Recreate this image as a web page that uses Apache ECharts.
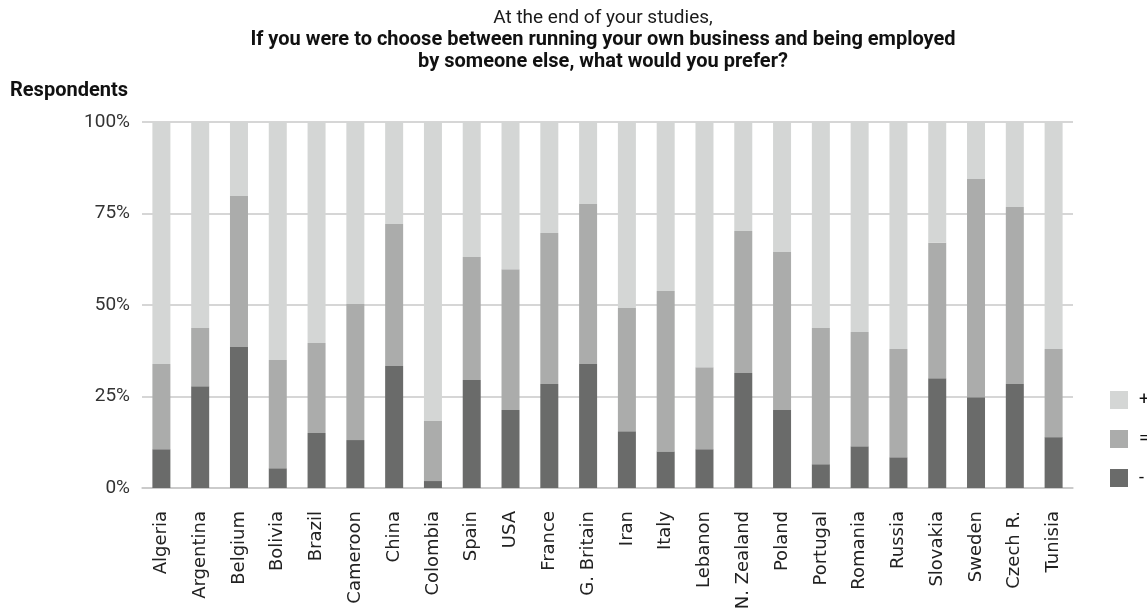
<!DOCTYPE html>
<html>
<head>
<meta charset="utf-8">
<script src="https://cdn.jsdelivr.net/npm/echarts@6/dist/echarts.min.js"></script>
<style>
html,body{margin:0;padding:0;background:#fff;}
#chart{width:1147px;height:608px;}
</style>
</head>
<body>
<div id="chart"></div>
<script>
const categories = ['Algeria','Argentina','Belgium','Bolivia','Brazil','Cameroon','China','Colombia','Spain','USA','France','G. Britain','Iran','Italy','Lebanon','N. Zealand','Poland','Portugal','Romania','Russia','Slovakia','Sweden','Czech R.','Tunisia'];
const minusValues = [10.6,27.8,38.5,5.4,15.0,13.1,33.3,1.9,29.5,21.3,28.4,33.9,15.5,10.0,10.6,31.4,21.3,6.5,11.4,8.4,30.0,24.8,28.4,13.9];
const equalValues = [23.3,15.9,41.3,29.6,24.6,37.2,38.8,16.4,33.6,38.5,41.3,43.7,33.7,43.8,22.4,38.8,43.2,37.2,31.2,29.6,37.0,59.6,48.4,24.1];
const plusValues  = [66.1,56.3,20.2,65.0,60.4,49.7,27.9,81.7,36.9,40.2,30.3,22.4,50.8,46.2,67.0,29.8,35.5,56.3,57.4,62.0,33.0,15.6,23.2,62.0];
const yTicks = [0,25,50,75,100];

const chart = echarts.init(document.getElementById('chart'));
const font = 'Roboto, "Noto Sans", sans-serif';
const option = {
  backgroundColor: '#ffffff',
  animation: false,
  title: [
    {
      text: 'At the end of your studies,',
      left: 603, top: 5, textAlign: 'center', padding: 0,
      textStyle: {fontFamily: font, fontSize: 19, fontWeight: 'normal', color: '#1a1a1a', lineHeight: 26}
    },
    {
      text: 'If you were to choose between running your own business and being employed\nby someone else, what would you prefer?',
      left: 603, top: 29, textAlign: 'center', padding: 0,
      textStyle: {fontFamily: font, fontSize: 20, fontWeight: 'bold', color: '#111', lineHeight: 22}
    },
    {
      text: 'Respondents',
      left: 10, top: 80, padding: 0,
      textStyle: {fontFamily: font, fontSize: 20, fontWeight: 'bold', color: '#111', lineHeight: 22}
    }
  ],
  legend: {
    data: ['+','=','-'],
    orient: 'vertical',
    left: 1110, top: 391,
    itemWidth: 18, itemHeight: 18, itemGap: 21,
    icon: 'rect',
    padding: 0,
    textStyle: {fontFamily: font, fontSize: 18, color: '#111', padding: [0,0,0,6]}
  },
  grid: {left: 142, right: 74, top: 122, bottom: 120, containLabel: false, outerBoundsMode: 'none'},
  xAxis: {
    type: 'category',
    data: categories,
    axisLine: {lineStyle: {color: '#c8c8c8', width: 1.5}},
    axisTick: {length: 7, lineStyle: {color: '#c8c8c8', width: 1.5}},
    axisLabel: {rotate: 90, margin: 23, interval: 0, fontFamily: '"DejaVu Sans", sans-serif', fontSize: 18, color: '#222'}
  },
  yAxis: {
    type: 'value',
    min: 0, max: 100, interval: 25,
    axisLine: {show: false},
    axisTick: {show: false},
    splitLine: {lineStyle: {color: '#c8c8c8', width: 1.5}},
    axisLabel: {
      margin: 12, fontFamily: font, fontSize: 19, color: '#333',
      formatter: function (v) { return yTicks.indexOf(v) >= 0 ? v + '%' : ''; }
    }
  },
  series: [
    {name: '-', type: 'bar', stack: 'all', barWidth: 18, data: minusValues, itemStyle: {color: '#6a6b6a'}},
    {name: '=', type: 'bar', stack: 'all', barWidth: 18, data: equalValues, itemStyle: {color: '#abacab'}},
    {name: '+', type: 'bar', stack: 'all', barWidth: 18, data: plusValues, itemStyle: {color: '#d4d6d5'}}
  ]
};
chart.setOption(option);
</script>
</body>
</html>
